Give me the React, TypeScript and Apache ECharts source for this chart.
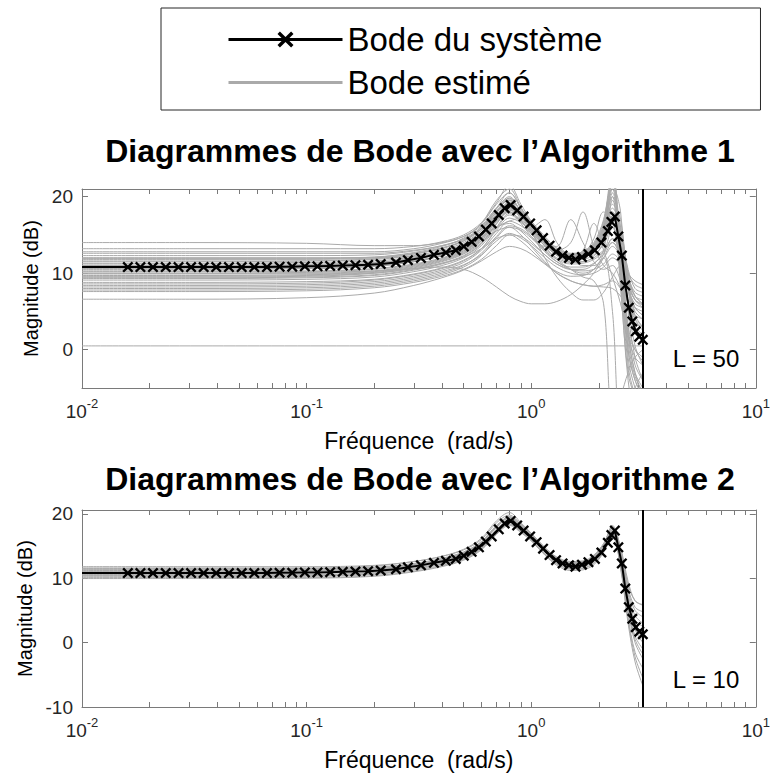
import React, { useEffect, useRef } from 'react';
import * as echarts from 'echarts';

// ---------- data ----------
const X_MIN = 0.01;
const X_MAX = 10;
const NYQUIST = 3.1416;
const X_MAJOR = [0.01, 0.1, 1, 10];
const X_TICKS = [
  0.01, 0.02, 0.03, 0.04, 0.05, 0.06, 0.07, 0.08, 0.09,
  0.1, 0.2, 0.3, 0.4, 0.5, 0.6, 0.7, 0.8, 0.9,
  1, 2, 3, 4, 5, 6, 7, 8, 9, 10,
];
const Y_TOP_TICKS = [0, 10, 20];
const Y_BOTTOM_TICKS = [-10, 0, 10, 20];

// true system (line starts at 0.01 without marker)
const START_FREQ = 0.01;
const START_DB = 10.8;
const TRUE_FREQ = [
  0.016, 0.0182, 0.0207, 0.0236, 0.0269, 0.0306, 0.0348, 0.0396, 0.0451, 0.0514,
  0.0585, 0.0666, 0.0758, 0.0863, 0.0982, 0.1118, 0.1273, 0.1449, 0.165, 0.1878,
  0.2138, 0.25, 0.2825, 0.3228, 0.369, 0.417, 0.4616, 0.501, 0.543, 0.585,
  0.628, 0.667, 0.717, 0.762, 0.81, 0.866, 0.925, 0.989, 1.057, 1.129,
  1.207, 1.29, 1.379, 1.473, 1.574, 1.682, 1.798, 1.921, 2.053, 2.194,
  2.275, 2.357, 2.443, 2.532, 2.624, 2.72, 2.819, 2.922, 3.028, 3.139,
];
const TRUE_DB = [
  10.8, 10.8, 10.8, 10.8, 10.8, 10.8, 10.8, 10.8, 10.8, 10.8,
  10.8, 10.8, 10.85, 10.85, 10.9, 10.9, 10.95, 11.0, 11.05, 11.1,
  11.2, 11.4, 11.7, 12.0, 12.4, 12.7, 13.0, 13.5, 14.1, 14.8,
  15.7, 16.5, 17.6, 18.5, 18.9, 18.2, 17.4, 16.5, 15.6, 14.6,
  13.6, 12.8, 12.3, 12.0, 11.8, 12.1, 12.5, 13.0, 14.0, 15.5,
  16.7, 17.4, 14.8, 12.3, 8.4, 5.5, 3.7, 2.4, 1.7, 1.3,
];

// estimated models, sampled on a common frequency grid
const EST_FREQ = [
  0.01, 0.03, 0.1, 0.2, 0.3, 0.4, 0.5, 0.6, 0.7, 0.8, 0.9, 1.0,
  1.15, 1.3, 1.5, 1.7, 1.9, 2.1, 2.3, 2.5, 2.7, 2.9, 3.1416,
];
const EST_TOP = [
  [14.0, 14.0, 13.9, 13.6, 13.6, 14.0, 14.8, 16.2, 18.5, 19.8, 18.0, 16.0, 13.8, 12.3, 11.5, 11.5, 12.2, 14.0, 17.5, 14.0, 8.0, 4.0, 2.5],
  [12.8, 12.8, 12.8, 12.8, 13.2, 13.9, 14.8, 16.4, 19.0, 20.5, 18.5, 16.5, 14.2, 12.8, 12.2, 12.5, 13.5, 15.8, 20.0, 16.0, 6.0, 0.5, -2.0],
  [12.3, 12.3, 12.3, 12.4, 12.9, 13.6, 14.5, 16.0, 18.2, 19.5, 18.2, 16.8, 14.8, 13.3, 12.6, 12.8, 13.8, 16.0, 21.5, 18.0, 5.0, -1.0, -4.0],
  [12.0, 12.0, 12.0, 12.1, 12.6, 13.3, 14.2, 15.8, 18.0, 19.2, 17.5, 16.0, 14.0, 12.8, 12.3, 12.6, 13.6, 16.2, 23.0, 14.0, 2.0, -3.0, -6.0],
  [11.6, 11.6, 11.6, 11.8, 12.3, 13.0, 14.0, 15.6, 18.4, 20.0, 18.0, 16.2, 14.2, 12.9, 12.2, 12.4, 13.2, 15.0, 18.0, 15.5, 9.0, 4.5, 3.0],
  [11.3, 11.3, 11.4, 11.6, 12.1, 12.8, 13.7, 15.2, 17.6, 19.0, 17.8, 16.3, 14.4, 13.0, 12.4, 12.7, 13.8, 16.8, 24.0, 10.0, -2.0, -6.0, -8.0],
  [11.0, 11.0, 11.0, 11.2, 11.8, 12.6, 13.6, 15.3, 18.0, 19.6, 18.2, 16.6, 14.5, 13.2, 12.5, 12.6, 13.3, 15.2, 19.0, 17.0, 8.0, 3.0, 1.0],
  [10.6, 10.6, 10.6, 10.9, 11.5, 12.3, 13.2, 14.8, 17.2, 18.6, 17.4, 16.0, 14.0, 12.7, 12.1, 12.3, 13.0, 14.8, 17.5, 14.5, 8.5, 5.5, 4.5],
  [10.3, 10.3, 10.3, 10.6, 11.2, 12.0, 13.0, 14.6, 17.0, 18.4, 17.5, 16.2, 14.3, 13.0, 12.4, 12.6, 13.5, 15.8, 21.0, 12.0, 0.0, -4.0, -6.0],
  [10.0, 10.0, 10.0, 10.3, 11.0, 11.8, 12.8, 14.5, 17.2, 19.0, 17.8, 16.2, 14.0, 12.6, 12.0, 12.2, 13.0, 15.0, 18.5, 16.0, 10.0, 7.0, 6.0],
  [9.7, 9.7, 9.8, 10.1, 10.8, 11.6, 12.6, 14.2, 16.8, 18.5, 17.6, 16.2, 14.2, 12.9, 12.3, 12.4, 13.2, 15.5, 22.0, 11.0, -1.0, -5.0, -7.0],
  [9.4, 9.4, 9.5, 9.8, 10.5, 11.3, 12.3, 13.9, 16.5, 18.2, 17.3, 15.9, 14.0, 12.8, 12.2, 12.4, 13.2, 15.0, 17.0, 15.0, 10.5, 8.0, 7.5],
  [9.1, 9.1, 9.2, 9.5, 10.2, 11.0, 12.0, 13.6, 16.0, 17.8, 17.0, 15.8, 14.0, 12.8, 12.3, 12.6, 13.6, 16.5, 23.5, 9.0, -4.0, -8.0, -9.0],
  [8.8, 8.8, 8.9, 9.2, 9.9, 10.7, 11.7, 13.2, 15.6, 17.2, 16.6, 15.5, 13.8, 12.6, 12.0, 12.2, 13.0, 14.8, 16.5, 14.0, 9.5, 7.0, 6.5],
  [8.4, 8.4, 8.5, 8.9, 9.6, 10.4, 11.4, 13.0, 15.2, 16.8, 16.2, 15.2, 13.6, 12.4, 11.8, 12.0, 12.8, 14.5, 17.5, 13.0, 6.0, 3.0, 2.0],
  [8.0, 8.0, 8.1, 8.5, 9.2, 10.0, 11.0, 12.6, 14.8, 16.2, 15.8, 14.8, 13.2, 12.0, 11.4, 11.5, 12.0, 13.0, 14.0, 12.5, 10.0, 9.0, 8.5],
  [7.6, 7.6, 7.7, 8.1, 8.8, 9.6, 10.5, 11.8, 13.6, 15.0, 14.8, 13.9, 12.4, 11.2, 10.5, 10.5, 11.2, 13.0, 20.0, 8.0, -3.0, -6.0, -7.0],
  [6.6, 6.6, 6.8, 7.4, 8.4, 9.4, 10.4, 11.6, 12.8, 13.5, 13.2, 12.5, 11.2, 10.0, 9.0, 8.5, 8.3, 8.5, 9.0, 8.0, 6.5, 5.5, 5.0],
  [10.8, 10.8, 10.9, 11.3, 12.0, 12.8, 13.8, 15.5, 18.0, 19.0, 17.0, 15.2, 13.5, 13.5, 17.0, 14.0, 11.5, 10.5, 11.0, 9.0, 6.0, 4.0, 3.0],
  [12.0, 12.0, 12.0, 12.0, 12.2, 12.6, 13.2, 14.2, 15.5, 16.0, 15.0, 13.5, 11.5, 10.0, 9.0, 8.5, 8.3, 8.2, 8.0, 7.0, 5.5, 4.5, 4.0],
  [11.8, 11.8, 11.8, 12.0, 12.5, 13.2, 14.2, 15.8, 18.5, 20.5, 18.5, 16.5, 14.0, 12.5, 12.0, 13.0, 16.5, 13.0, 9.5, 6.0, 2.0, 0.0, -1.0],
  [11.0, 11.0, 11.1, 11.4, 11.9, 12.6, 13.4, 14.6, 16.0, 16.8, 17.2, 15.5, 12.0, 9.5, 7.5, 6.5, 6.5, 7.5, 9.5, 11.0, 9.0, 7.0, 6.0],
  [10.0, 10.0, 10.1, 10.3, 10.6, 10.8, 10.5, 9.5, 8.2, 7.0, 6.3, 6.0, 6.0, 6.3, 7.2, 8.5, 10.0, 12.0, 14.0, 12.0, 8.0, 5.5, 4.5],
  [11.5, 11.5, 11.6, 11.9, 12.5, 13.3, 14.3, 16.0, 18.5, 19.5, 17.5, 16.0, 17.0, 14.0, 12.0, 11.0, 11.0, 12.0, 13.5, 12.0, 8.0, 5.0, 4.0],
  [10.5, 10.5, 10.6, 10.9, 11.5, 12.3, 13.3, 14.8, 17.5, 19.3, 17.6, 15.8, 13.5, 11.8, 10.5, 9.5, 9.0, 6.0, -8.0, -6.0, -3.0, -1.0, 0.0],
  [9.5, 9.5, 9.6, 10.0, 10.7, 11.5, 12.5, 14.0, 16.5, 18.0, 16.8, 15.2, 13.0, 11.5, 10.5, 10.0, 10.5, 12.0, 5.0, -10.0, -8.0, -5.0, -3.0],
  [13.2, 13.2, 13.2, 13.2, 13.5, 14.1, 15.0, 16.6, 19.2, 21.5, 19.0, 16.8, 14.5, 13.0, 12.4, 12.8, 14.0, 17.0, 22.5, 12.0, 2.0, -3.0, -5.0],
  [12.6, 12.6, 12.6, 12.6, 13.0, 13.6, 14.4, 15.8, 17.5, 18.0, 16.5, 14.8, 12.8, 11.5, 10.8, 10.8, 11.3, 12.5, 14.5, 13.0, 9.0, 6.5, 5.5],
  [11.9, 11.9, 11.9, 12.1, 12.7, 13.5, 14.6, 16.5, 19.5, 21.0, 18.6, 16.4, 14.0, 12.6, 12.0, 12.3, 13.4, 16.0, 21.5, 13.5, 3.0, -2.0, -4.0],
  [11.2, 11.2, 11.2, 11.4, 11.9, 12.6, 13.4, 14.6, 16.0, 16.5, 15.5, 14.2, 12.4, 11.2, 10.5, 10.3, 10.5, 11.2, 12.5, 11.5, 8.5, 6.5, 5.8],
  [10.9, 10.9, 10.9, 11.1, 11.6, 12.3, 13.2, 14.6, 16.8, 18.0, 16.8, 15.4, 13.6, 12.5, 12.0, 12.5, 14.5, 18.0, 17.0, 10.0, 3.0, 0.0, -1.5],
  [10.2, 10.2, 10.2, 10.5, 11.1, 11.9, 12.9, 14.5, 17.0, 18.7, 17.4, 15.9, 13.8, 12.4, 11.7, 11.8, 12.4, 13.8, 16.0, 13.5, 9.5, 7.5, 7.0],
  [9.9, 9.9, 9.9, 10.2, 10.9, 11.7, 12.7, 14.3, 16.9, 18.6, 17.5, 16.1, 14.1, 12.8, 12.2, 12.4, 13.4, 15.6, 20.5, 12.5, 1.0, -3.5, -5.5],
  [9.6, 9.6, 9.7, 10.0, 10.6, 11.3, 12.1, 13.2, 14.5, 15.0, 14.2, 13.0, 11.3, 10.2, 9.6, 9.7, 10.5, 12.5, 16.0, 10.0, 2.0, -1.0, -2.0],
  [9.3, 9.3, 9.4, 9.7, 10.4, 11.2, 12.2, 13.8, 16.4, 18.3, 17.4, 16.0, 14.0, 12.7, 12.1, 12.3, 13.1, 14.6, 16.5, 14.0, 10.0, 8.5, 8.0],
  [8.6, 8.6, 8.7, 9.1, 9.8, 10.6, 11.6, 13.2, 15.8, 17.6, 16.8, 15.6, 13.9, 12.7, 12.1, 12.3, 13.3, 15.5, 19.5, 11.0, 0.0, -4.0, -6.0],
  [8.2, 8.2, 8.3, 8.7, 9.4, 10.2, 11.1, 12.4, 14.2, 15.2, 14.6, 13.6, 12.0, 10.8, 10.0, 9.8, 10.0, 10.8, 12.0, 11.0, 8.0, 6.0, 5.5],
  [7.8, 7.8, 7.9, 8.3, 9.0, 9.8, 10.8, 12.3, 14.6, 16.0, 15.6, 14.6, 13.0, 11.8, 11.2, 11.3, 11.8, 12.8, 14.5, 12.5, 8.5, 6.5, 6.0],
  [10.7, 10.7, 10.7, 11.0, 11.6, 12.4, 13.4, 15.0, 17.8, 19.8, 18.0, 16.2, 14.0, 13.0, 14.0, 18.0, 13.5, 11.0, 10.0, 8.0, 5.0, 3.5, 3.0],
];
const FLAT_EST_FREQ = [0.01, 3.1416];
const FLAT_EST_DB = [0.5, 0.5];

const EST_BOTTOM = [
  [11.8, 11.8, 11.8, 12.0, 12.6, 13.4, 14.4, 16.0, 18.6, 19.8, 18.4, 17.0, 14.8, 13.3, 12.6, 12.7, 13.6, 15.4, 18.0, 14.5, 9.0, 6.5, 5.8],
  [11.5, 11.5, 11.5, 11.7, 12.3, 13.1, 14.1, 15.7, 18.2, 19.5, 18.2, 16.8, 14.6, 13.1, 12.4, 12.5, 13.4, 15.2, 17.8, 14.0, 8.0, 5.0, 4.0],
  [11.2, 11.2, 11.2, 11.4, 12.0, 12.8, 13.8, 15.4, 17.9, 19.3, 18.0, 16.6, 14.5, 13.0, 12.3, 12.4, 13.2, 15.0, 17.5, 13.5, 7.0, 3.5, 2.5],
  [11.0, 11.0, 11.0, 11.2, 11.9, 12.7, 13.6, 15.2, 17.6, 19.1, 17.9, 16.5, 14.4, 12.9, 12.1, 12.2, 13.0, 14.8, 17.3, 13.2, 6.5, 2.5, 1.0],
  [10.6, 10.6, 10.6, 10.9, 11.6, 12.4, 13.4, 14.9, 17.3, 18.8, 17.6, 16.3, 14.2, 12.7, 11.9, 12.0, 12.8, 14.5, 17.0, 12.8, 5.5, 1.0, -1.0],
  [10.4, 10.4, 10.4, 10.7, 11.4, 12.2, 13.1, 14.7, 17.1, 18.6, 17.4, 16.1, 14.0, 12.5, 11.7, 11.8, 12.6, 14.3, 16.8, 12.5, 5.0, 0.0, -2.5],
  [10.3, 10.3, 10.3, 10.6, 11.3, 12.0, 13.0, 14.6, 17.0, 18.4, 17.3, 16.0, 13.8, 12.3, 11.5, 11.6, 12.4, 14.2, 16.6, 12.0, 4.0, -1.5, -4.0],
  [9.95, 9.95, 10.0, 10.3, 11.0, 11.8, 12.8, 14.4, 16.8, 18.2, 17.1, 15.8, 13.6, 12.0, 11.2, 11.3, 12.1, 14.0, 16.5, 11.5, 3.0, -3.0, -6.7],
  [11.6, 11.6, 11.6, 11.9, 12.6, 13.4, 14.5, 16.2, 18.9, 20.2, 18.6, 17.0, 14.7, 13.1, 12.3, 12.5, 13.4, 15.2, 18.2, 14.8, 9.5, 6.5, 5.9],
  [11.0, 11.0, 11.1, 11.4, 12.1, 12.9, 13.9, 15.5, 18.0, 19.4, 18.0, 16.6, 14.4, 12.9, 12.2, 12.3, 13.1, 14.9, 17.4, 13.0, 6.0, 2.0, 0.0],
  [10.9, 10.9, 10.9, 11.2, 11.8, 12.6, 13.6, 15.1, 17.6, 19.0, 17.8, 16.4, 14.3, 12.8, 12.0, 12.1, 12.9, 14.7, 17.2, 13.0, 6.2, 2.2, 0.5],
  [11.4, 11.4, 11.4, 11.6, 12.2, 13.0, 14.0, 15.6, 18.1, 19.4, 18.1, 16.7, 14.6, 13.1, 12.4, 12.5, 13.3, 15.0, 17.6, 13.6, 7.5, 4.2, 3.0],
  [11.3, 11.3, 11.3, 11.5, 12.1, 12.9, 13.9, 15.5, 18.0, 19.6, 18.3, 16.9, 14.7, 13.2, 12.5, 12.6, 13.5, 15.3, 17.9, 14.2, 8.5, 5.5, 4.8],
  [10.5, 10.5, 10.5, 10.8, 11.5, 12.3, 13.2, 14.8, 17.2, 18.7, 17.5, 16.2, 14.1, 12.6, 11.8, 11.9, 12.7, 14.4, 16.9, 12.6, 5.2, 0.5, -1.8],
  [10.1, 10.1, 10.1, 10.4, 11.1, 11.9, 12.9, 14.5, 16.9, 18.3, 17.2, 15.9, 13.7, 12.2, 11.4, 11.5, 12.3, 14.1, 16.6, 11.8, 3.5, -2.2, -5.5],
];

const TITLES = ['Diagrammes de Bode avec l\u2019Algorithme 1', 'Diagrammes de Bode avec l\u2019Algorithme 2'];
const L_LABELS = ['L = 50', 'L = 10'];
const NAME_TRUE = 'Bode du syst\u00e8me';
const NAME_EST = 'Bode estim\u00e9';

// ---------- styles ----------
const FONT = '"Liberation Sans", Arial, Helvetica, sans-serif';
const AXIS_C = '#7a7a7a';
const LABEL_C = '#262626';
const GRAY = '#aaaaaa';
const X_SYMBOL =
  'path://M0,1.5L1.5,0L5,3.5L8.5,0L10,1.5L6.5,5L10,8.5L8.5,10L5,6.5L1.5,10L0,8.5L3.5,5Z';

const GRIDS = [
  { left: 82, top: 189, width: 676, height: 199 },
  { left: 82, top: 510, width: 676, height: 197 },
];
const Y_RANGES = [
  { min: -5, max: 21, ticks: Y_TOP_TICKS },
  { min: -10, max: 20.6, ticks: Y_BOTTOM_TICKS },
];

function xAxesFor(gi: number) {
  const common = {
    type: 'log',
    logBase: 10,
    gridIndex: gi,
    min: X_MIN,
    max: X_MAX,
    axisLine: { show: true, onZero: false, lineStyle: { color: AXIS_C, width: 1 } },
    axisTick: { show: true, inside: true, length: 5, customValues: X_TICKS, lineStyle: { color: AXIS_C } },
    splitLine: { show: false },
    minorTick: { show: false },
    minorSplitLine: { show: false },
  };
  return [
    {
      ...common,
      position: 'bottom',
      axisLabel: {
        show: true,
        customValues: X_MAJOR,
        margin: 9,
        formatter: (v: number) => `{b|10}{s|${Math.round(Math.log10(v))}}`,
        rich: {
          b: { fontFamily: FONT, fontSize: 19, color: LABEL_C, lineHeight: 24, verticalAlign: 'bottom' },
          s: { fontFamily: FONT, fontSize: 13, color: LABEL_C, lineHeight: 14, verticalAlign: 'top' },
        },
      },
      name: 'Fr\u00e9quence  (rad/s)',
      nameLocation: 'middle',
      nameGap: 41,
      nameTextStyle: { fontFamily: FONT, fontSize: 23, color: '#000' },
    },
    { ...common, position: 'top', axisLabel: { show: false } },
  ];
}

function yAxesFor(gi: number) {
  const r = Y_RANGES[gi];
  const common = {
    type: 'value',
    gridIndex: gi,
    min: r.min,
    max: r.max,
    axisLine: { show: true, onZero: false, lineStyle: { color: AXIS_C, width: 1 } },
    axisTick: { show: true, inside: true, length: 6, customValues: r.ticks, lineStyle: { color: AXIS_C } },
    splitLine: { show: false },
  };
  return [
    {
      ...common,
      position: 'left',
      axisLabel: {
        show: true,
        customValues: r.ticks,
        margin: 9,
        fontFamily: FONT,
        fontSize: 19,
        color: LABEL_C,
      },
      name: 'Magnitude (dB)',
      nameLocation: 'middle',
      nameGap: 40,
      nameTextStyle: { fontFamily: FONT, fontSize: 20, color: '#000' },
    },
    { ...common, position: 'right', axisLabel: { show: false } },
  ];
}

function grayLine(freq: number[], db: number[], xi: number, yi: number) {
  return {
    type: 'line',
    name: NAME_EST,
    xAxisIndex: xi,
    yAxisIndex: yi,
    data: freq.map((f, i) => [f, db[i]]),
    symbol: 'none',
    smooth: 0.35,
    lineStyle: { color: GRAY, width: 1 },
    itemStyle: { color: GRAY },
    silent: true,
    z: 2,
    emphasis: { disabled: true },
  };
}

function trueLine(xi: number, yi: number) {
  return {
    type: 'line',
    name: NAME_TRUE,
    xAxisIndex: xi,
    yAxisIndex: yi,
    data: [
      { value: [START_FREQ, START_DB], symbol: 'none' },
      ...TRUE_FREQ.map((f, i) => [f, TRUE_DB[i]]),
    ],
    symbol: X_SYMBOL,
    symbolSize: 11,
    showSymbol: true,
    lineStyle: { color: '#000', width: 2 },
    itemStyle: { color: '#000' },
    silent: true,
    z: 5,
    emphasis: { disabled: true },
    markLine: {
      silent: true,
      symbol: 'none',
      label: { show: false },
      lineStyle: { color: '#000', width: 2, type: 'solid' },
      emphasis: { disabled: true },
      data: [{ xAxis: NYQUIST }],
    },
  };
}

export default function App() {
  const ref = useRef<HTMLDivElement>(null);

  useEffect(() => {
    if (!ref.current) return;
    const chart = echarts.init(ref.current, null, { renderer: 'svg' });

    const series: any[] = [];
    EST_TOP.forEach((c) => series.push(grayLine(EST_FREQ, c, 0, 0)));
    series.push(grayLine(FLAT_EST_FREQ, FLAT_EST_DB, 0, 0));
    series.push(trueLine(0, 0));
    EST_BOTTOM.forEach((c) => series.push(grayLine(EST_FREQ, c, 2, 2)));
    series.push(trueLine(2, 2));

    const option: any = {
      animation: false,
      backgroundColor: '#fff',
      textStyle: { fontFamily: FONT },
      grid: GRIDS.map((g) => ({ ...g, containLabel: false })),
      xAxis: [...xAxesFor(0), ...xAxesFor(1)],
      yAxis: [...yAxesFor(0), ...yAxesFor(1)],
      legend: {
        orient: 'vertical',
        left: 161,
        top: 8,
        itemWidth: 114,
        itemHeight: 20,
        itemGap: 10,
        padding: [15, 158, 11, 66],
        borderColor: '#262626',
        borderWidth: 1,
        backgroundColor: '#fff',
        selectedMode: false,
        textStyle: { fontFamily: FONT, fontSize: 33, color: '#000' },
        data: [
          { name: NAME_TRUE, lineStyle: { width: 3, color: '#000' } },
          { name: NAME_EST, lineStyle: { width: 3, color: GRAY }, itemStyle: { opacity: 0 } },
        ],
      },
      graphic: [
        ...TITLES.map((t, i) => ({
          type: 'text',
          x: 420,
          y: i === 0 ? 151 : 479,
          style: {
            text: t,
            font: `bold 32px ${FONT}`,
            fill: '#000',
            align: 'center',
            verticalAlign: 'middle',
          },
        })),
        ...L_LABELS.map((t, i) => ({
          type: 'text',
          x: 706,
          y: i === 0 ? 358 : 679,
          style: {
            text: t,
            font: `24px ${FONT}`,
            fill: '#000',
            align: 'center',
            verticalAlign: 'middle',
          },
        })),
      ],
      series,
    };

    chart.setOption(option);
    return () => chart.dispose();
  }, []);

  return (
    <div
      ref={ref}
      style={{ position: 'absolute', left: 0, top: 0, width: 773, height: 780, background: '#fff' }}
    />
  );
}
